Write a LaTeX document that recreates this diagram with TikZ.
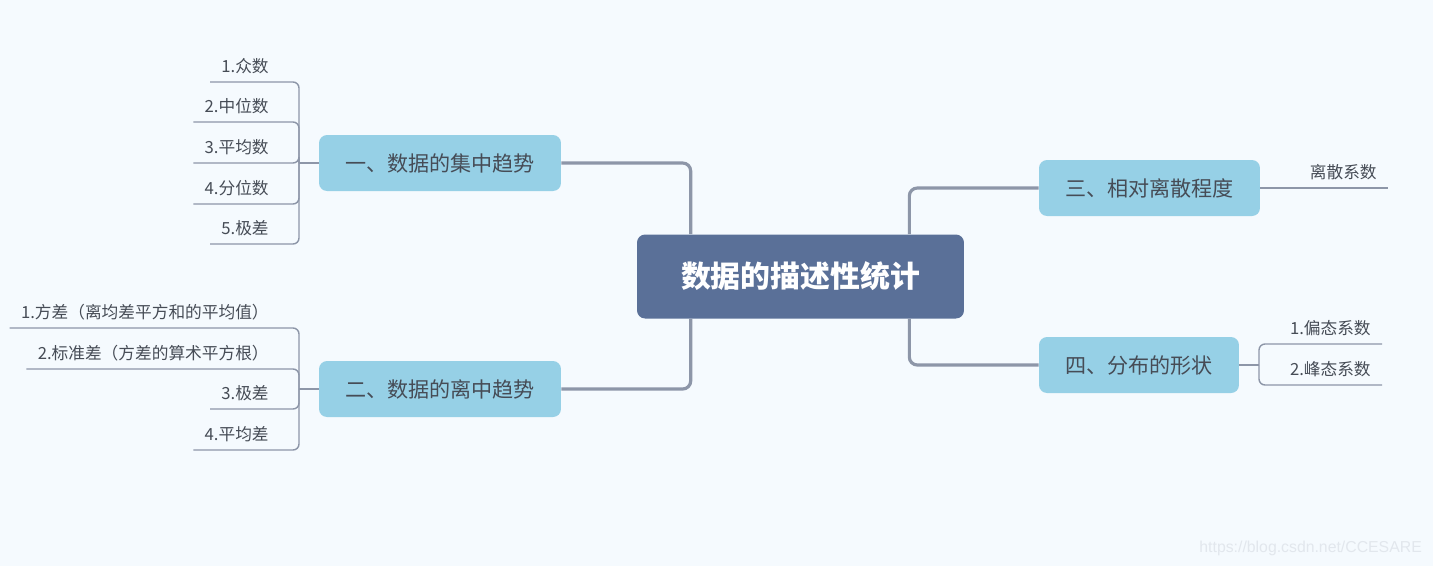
\documentclass[tikz,border=0pt]{standalone}
\usepackage{fontspec}
\newfontfamily\cjk{Noto Sans CJK SC}
\newfontfamily\wmfont{Liberation Sans}
\usetikzlibrary{calc}
\definecolor{bgcol}{RGB}{245,250,254}
\definecolor{rootcol}{RGB}{90,112,152}
\definecolor{branchcol}{RGB}{150,208,230}
\definecolor{linecol}{RGB}{141,150,168}
\definecolor{txtcol}{RGB}{70,76,86}
\definecolor{wmcol}{RGB}{226,231,237}

\begin{document}
\begin{tikzpicture}[
  x=0.02cm, y=-0.02cm,
  rootbox/.style={fill=rootcol, rounded corners=0.16cm, minimum width=6.54cm,
    minimum height=1.68cm, text=white, font=\cjk\bfseries\fontsize{17}{20}\selectfont},
  branchbox/.style={fill=branchcol, rounded corners=0.16cm, minimum height=1.12cm,
    text=txtcol, font=\cjk\fontsize{12}{14}\selectfont},
  leaf/.style={text=txtcol, font=\cjk\fontsize{9.5}{11}\selectfont,
    inner xsep=0.22cm, inner ysep=0.13cm, text height=0.85em, text depth=0.15em},
  trunk/.style={draw=linecol, line width=1.8pt, rounded corners=0.16cm},
  twig/.style={draw=linecol, line width=0.8pt, rounded corners=0.12cm}
]
  \fill[bgcol] (0,0) rectangle (1433,566);
  \useasboundingbox (0,0) rectangle (1433,566);

  % centre and main branches
  \node[rootbox] (root) at (800.5,276.5) {数据的描述性统计};
  \node[branchbox, minimum width=4.84cm] (b1) at (440,163) {一、数据的集中趋势};
  \node[branchbox, minimum width=4.84cm] (b2) at (440,389) {二、数据的离中趋势};
  \node[branchbox, minimum width=4.42cm] (b3) at (1149.5,188) {三、相对离散程度};
  \node[branchbox, minimum width=4cm] (b4) at (1139,365) {四、分布的形状};

  \draw[trunk] (root.north west) ++(54,0) |- (b1.east);
  \draw[trunk] (root.south west) ++(54,0) |- (b2.east);
  \draw[trunk] (root.north east) ++(-55,0) |- (b3.west);
  \draw[trunk] (root.south east) ++(-55,0) |- (b4.west);

  % leaves of branch 1
  \coordinate (jn1) at (299,163);
  \draw[twig, line width=1.1pt] (b1.west) -- (jn1);
  \foreach \y/\txt [count=\i] in {82/1.众数, 122/2.中位数, 163/3.平均数,
                                  204/4.分位数, 244/5.极差}
    \node[leaf, anchor=south east] (l1\i) at (280,\y) {\txt};
  \foreach \i in {1,...,5}
    \draw[twig] (jn1) |- (l1\i.south west);

  % leaves of branch 2
  \coordinate (jn2) at (299,389);
  \draw[twig, line width=1.1pt] (b2.west) -- (jn2);
  \foreach \y/\txt [count=\i] in {328/1.方差（离均差平方和的平均值）,
                                  369/2.标准差（方差的算术平方根）,
                                  409/3.极差, 450/4.平均差}
    \node[leaf, anchor=south east] (l2\i) at (280,\y) {\txt};
  \foreach \i in {1,...,4}
    \draw[twig] (jn2) |- (l2\i.south west);

  % leaf of branch 3
  \node[leaf, anchor=south east] (l31) at (1388,188) {离散系数};
  \draw[twig] (b3.east) -- (l31.south east);

  % leaves of branch 4
  \coordinate (jn4) at (1259,365);
  \draw[twig, line width=1.1pt] (b4.east) -- (jn4);
  \node[leaf, anchor=south east] (l41) at (1382,344) {1.偏态系数};
  \node[leaf, anchor=south east] (l42) at (1382,385) {2.峰态系数};
  \draw[twig] (jn4) |- (l41.south east);
  \draw[twig] (jn4) |- (l42.south east);

  \node[font=\wmfont\fontsize{9}{10}\selectfont, text=wmcol, anchor=east]
    (wm) at (1428,548) {https://blog.csdn.net/CCESARE};
\end{tikzpicture}
\end{document}
